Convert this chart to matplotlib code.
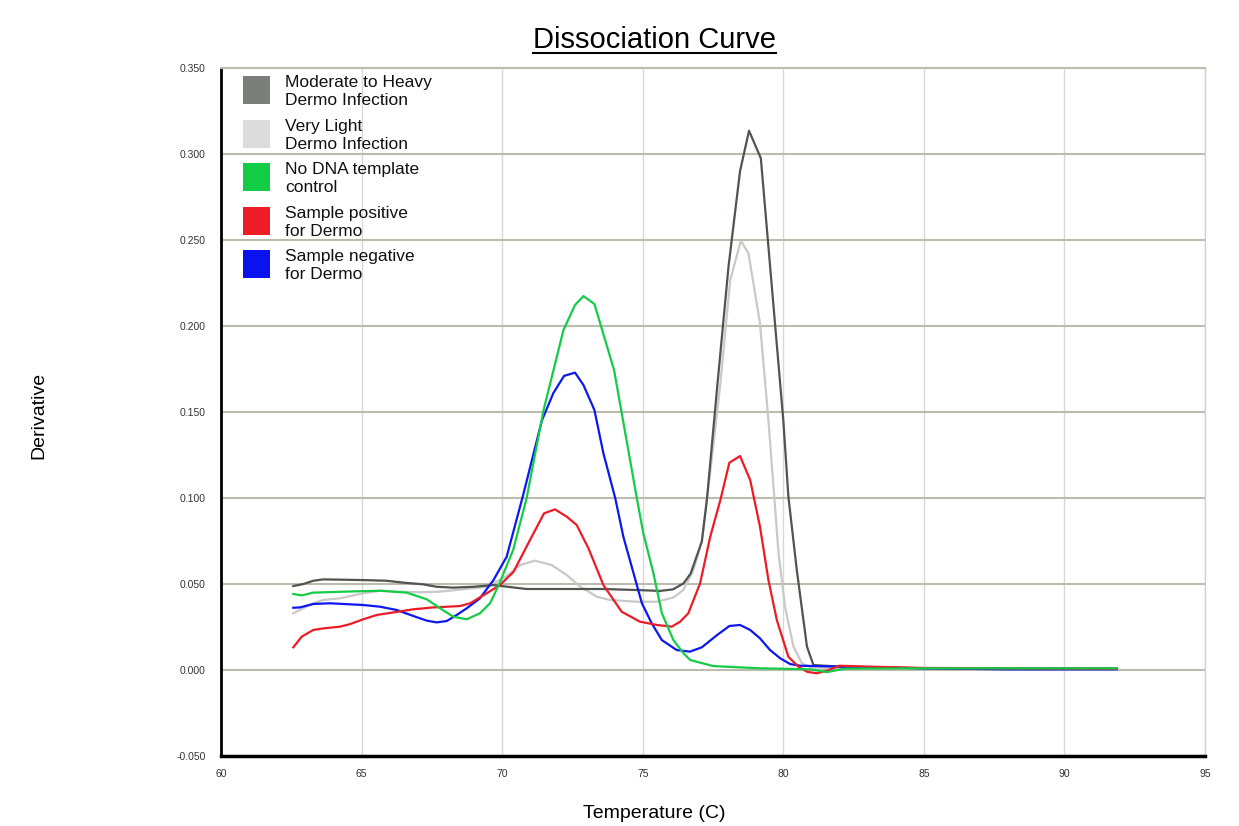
import matplotlib
matplotlib.use("Agg")
import matplotlib.pyplot as plt
from matplotlib.lines import Line2D
from matplotlib.patches import Rectangle

plt.rcParams['font.family'] = ['Liberation Sans', 'DejaVu Sans']

# --- data ---
temp_heavy = [62.57, 62.93, 63.28, 63.64, 65.06, 65.89, 66.49, 67.2, 67.67, 68.26, 68.98, 69.69,
              70.4, 70.87, 72.42, 73.6, 74.79, 75.62, 76.08, 76.45, 76.7, 77.1, 77.28, 77.65,
              78.05, 78.46, 78.78, 79.2, 80.0, 80.18, 80.48, 80.84, 81.07, 82.0, 85.0, 88.0, 91.86]
deriv_heavy = [0.0488, 0.050, 0.0519, 0.0527, 0.0523, 0.0519, 0.0508, 0.0498, 0.0484, 0.0479, 0.0484, 0.0494,
               0.048, 0.0471, 0.0471, 0.0471, 0.0465, 0.046, 0.0469, 0.0504, 0.056, 0.0746, 0.0988, 0.165,
               0.2345, 0.290, 0.3135, 0.2975, 0.145, 0.1008, 0.058, 0.0136, 0.0029, 0.002, 0.001, 0.001, 0.001]

temp_light = [62.57, 62.93, 63.28, 63.64, 64.23, 65.06, 65.66, 66.25, 67.08, 67.79, 68.62, 69.45,
              70.1, 70.64, 71.17, 71.76, 72.30, 72.77, 73.37, 73.84, 74.79, 75.5, 76.09, 76.44,
              76.8, 77.1, 77.4, 77.75, 78.11, 78.49, 78.76, 79.17, 79.47, 79.65, 79.83, 80.06,
              80.36, 80.66, 81.0, 82.0, 85.0, 88.0, 91.86]
deriv_light = [0.033, 0.0359, 0.0388, 0.0407, 0.0417, 0.0446, 0.0461, 0.0456, 0.0452, 0.0456, 0.0469, 0.0484,
               0.054, 0.061, 0.0636, 0.061, 0.0552, 0.0485, 0.0426, 0.0407, 0.0397, 0.0397, 0.0422, 0.0465,
               0.058, 0.075, 0.115, 0.165, 0.2267, 0.2496, 0.2422, 0.2016, 0.145, 0.1066, 0.0678, 0.0368,
               0.0136, 0.0039, 0.0015, 0.001, 0.001, 0.001, 0.001]

temp_ntc = [62.57, 62.87, 63.28, 64.47, 65.66, 66.6, 67.32, 67.79, 68.26, 68.74, 69.21, 69.57,
            69.92, 70.39, 70.87, 71.47, 72.18, 72.59, 72.89, 73.28, 73.98, 74.79, 75.02, 75.38,
            75.68, 76.09, 76.45, 76.69, 77.51, 79.17, 80.96, 81.55, 82.2, 85.0, 88.0, 91.86]
deriv_ntc = [0.0442, 0.0434, 0.045, 0.0456, 0.0461, 0.045, 0.0411, 0.0359, 0.031, 0.0295, 0.033, 0.0388,
             0.051, 0.0698, 0.100, 0.151, 0.1977, 0.2122, 0.2174, 0.2128, 0.1744, 0.0998, 0.0795, 0.0562,
             0.033, 0.0174, 0.0097, 0.0058, 0.0023, 0.001, 0.0004, -0.0012, 0.0008, 0.001, 0.001, 0.001]

temp_pos = [62.57, 62.87, 63.28, 63.64, 64.23, 64.59, 65.06, 65.54, 66.13, 66.84, 67.55, 68.5,
            68.86, 69.45, 69.92, 70.40, 70.99, 71.49, 71.88, 72.30, 72.65, 73.07, 73.6, 74.25,
            74.9, 75.5, 76.03, 76.33, 76.62, 77.04, 77.4, 77.76, 78.08, 78.46, 78.82, 79.17,
            79.47, 79.77, 80.18, 80.54, 80.84, 81.19, 81.55, 82.0, 83.0, 85.0, 88.0, 91.86]
deriv_pos = [0.0132, 0.0194, 0.0233, 0.0242, 0.0252, 0.0267, 0.0295, 0.032, 0.0335, 0.0353, 0.0364, 0.0372,
             0.0388, 0.0446, 0.0494, 0.057, 0.0756, 0.0911, 0.0934, 0.0891, 0.0843, 0.0707, 0.0494, 0.0339,
             0.0281, 0.0262, 0.0252, 0.0281, 0.033, 0.0504, 0.0775, 0.0988, 0.1205, 0.1244, 0.1105, 0.0833,
             0.0523, 0.029, 0.0077, 0.0019, -0.001, -0.0019, -0.0004, 0.0025, 0.002, 0.0012, 0.001, 0.0008]

temp_neg = [62.57, 62.81, 63.28, 63.88, 65.06, 65.66, 66.25, 66.84, 67.32, 67.67, 68.03, 68.38,
            68.74, 69.21, 69.69, 70.16, 70.75, 71.41, 71.82, 72.20, 72.59, 72.89, 73.28, 73.6,
            74.02, 74.31, 74.97, 75.32, 75.68, 76.21, 76.68, 77.1, 77.64, 78.08, 78.46, 78.82,
            79.17, 79.53, 79.89, 80.24, 80.6, 82.0, 85.0, 88.0, 91.86]
deriv_neg = [0.0362, 0.0364, 0.0384, 0.0388, 0.0378, 0.0368, 0.0349, 0.0314, 0.0287, 0.0277, 0.0285, 0.032,
             0.0359, 0.0417, 0.0523, 0.0659, 0.102, 0.145, 0.161, 0.171, 0.1729, 0.1657, 0.1512, 0.126,
             0.100, 0.0775, 0.0388, 0.0271, 0.0174, 0.0116, 0.0107, 0.0132, 0.0203, 0.0256, 0.0262, 0.0233,
             0.0184, 0.0116, 0.0068, 0.0035, 0.0025, 0.002, 0.001, 0.0004, 0.0004]

labels = ["Moderate to Heavy\nDermo Infection", "Very Light\nDermo Infection",
          "No DNA template\ncontrol", "Sample positive\nfor Dermo", "Sample negative\nfor Dermo"]
line_colors = ['#50554f', '#c9c9c9', '#14cc48', '#ec1c27', '#0c18ee']
swatch_colors = ['#7a7f79', '#dcdcdc', '#12cc45', '#ed1c26', '#0a12f0']

xticks = [60, 65, 70, 75, 80, 85, 90, 95]
yticks = [-0.05, 0.0, 0.05, 0.10, 0.15, 0.20, 0.25, 0.30, 0.35]

fig = plt.figure(figsize=(12.39, 8.26), dpi=100)
ax = fig.add_axes([0.1784, 0.0847, 0.7942, 0.833])

series = [(temp_light, deriv_light, 1), (temp_heavy, deriv_heavy, 0),
          (temp_neg, deriv_neg, 4), (temp_pos, deriv_pos, 3), (temp_ntc, deriv_ntc, 2)]
for t, d, i in series:
    ax.plot(t, d, color=line_colors[i], lw=1.6, zorder=3)

ax.set_xlim(60, 95)
ax.set_ylim(-0.05, 0.35)
ax.set_xticks(xticks)
ax.set_yticks(yticks)
ax.set_xticklabels([str(x) for x in xticks])
ax.set_yticklabels(['%.3f' % y for y in yticks])
ax.tick_params(length=0, labelsize=7.5, labelcolor='#333333')
ax.tick_params(axis='y', pad=11)
ax.tick_params(axis='x', pad=9)
ax.yaxis.grid(True, color='#bdbaae', lw=1.5)
ax.xaxis.grid(True, color='#d8d8d8', lw=1.0)
ax.set_axisbelow(True)
ax.spines['left'].set_color('black')
ax.spines['left'].set_linewidth(2)
ax.spines['bottom'].set_color('black')
ax.spines['bottom'].set_linewidth(2.5)
ax.spines['top'].set_color('#bdbaae')
ax.spines['top'].set_linewidth(1.5)
ax.spines['right'].set_color('#d0d0d0')
ax.spines['right'].set_linewidth(1.0)

# legend drawn by hand (no frame, grid shows through)
for i, (lab, col) in enumerate(zip(labels, swatch_colors)):
    yc = 0.891 - i * 0.0527
    fig.patches.append(Rectangle((0.1961, yc - 0.017), 0.0218, 0.034, transform=fig.transFigure,
                                 facecolor=col, edgecolor='none', zorder=5))
    fig.text(0.2300, yc - 0.002, lab, fontsize=12.5, va='center', ha='left', linespacing=1.22,
             color='#111111')

title = fig.text(0.528, 0.952, "Dissociation Curve", fontsize=21, ha='center', va='center')
fig.text(0.528, 0.015, "Temperature (C)", fontsize=14, ha='center', va='center')
fig.text(0.031, 0.497, "Derivative", fontsize=14, ha='center', va='center', rotation=90)

# underline the title
fig.canvas.draw()
bb = title.get_window_extent(renderer=fig.canvas.get_renderer())
x0, x1 = bb.x0 / fig.bbox.width, bb.x1 / fig.bbox.width
yl = (bb.y0 + 1) / fig.bbox.height
fig.lines.append(Line2D([x0, x1], [yl, yl], transform=fig.transFigure, color='black', lw=1.5))

fig.savefig("out.png", dpi=100)
